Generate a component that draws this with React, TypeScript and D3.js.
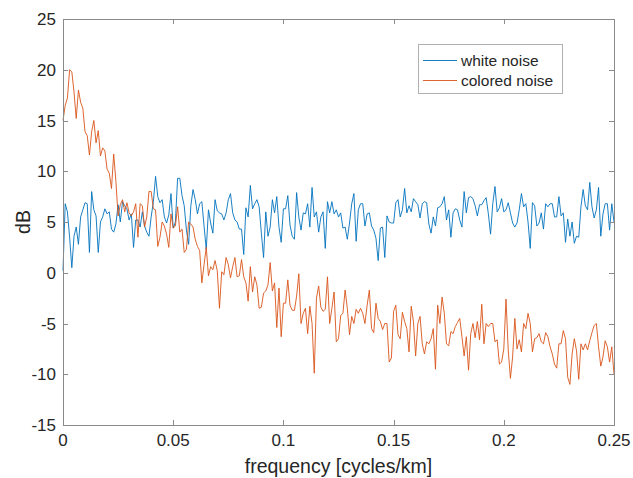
import * as d3 from "d3"

// spectra, one value every 0.001 cycles/km
const freqStep = 0.001

const whiteNoise = [
  0.2, 6.8, 6.0, 3.5, 0.5, 3.6, 4.5, 2.8, 5.5, 6.2, 6.9, 6.8, 2.0, 8.0, 6.2, 5.6, 2.0, 5.0, 5.5, 6.3,
  5.8, 6.0, 4.3, 4.0, 4.8, 6.7, 5.0, 7.0, 6.6, 6.3, 5.2, 5.8, 2.5, 5.2, 5.2, 4.5, 6.0, 4.6, 4.0, 3.6,
  5.5, 7.0, 9.5, 7.5, 6.9, 7.2, 5.5, 4.9, 5.7, 7.8, 4.4, 5.0, 9.3, 9.3, 7.6, 6.6, 4.2, 2.8, 6.6, 8.2,
  7.2, 5.8, 6.8, 7.0, 4.6, 2.3, 6.2, 4.9, 3.9, 7.2, 6.1, 5.9, 5.8, 5.2, 5.9, 7.2, 7.8, 5.9, 5.2, 5.0,
  4.3, 4.3, 1.8, 6.4, 5.5, 8.6, 6.3, 6.8, 7.2, 6.5, 3.9, 1.5, 6.0, 3.6, 4.5, 7.2, 5.9, 7.5, 4.5, 3.0,
  6.3, 6.3, 7.6, 4.7, 3.6, 3.3, 7.9, 5.5, 4.2, 5.9, 5.8, 6.8, 4.5, 8.4, 5.5, 6.0, 4.0, 5.5, 6.0, 2.4,
  7.0, 5.9, 7.0, 5.8, 6.2, 5.5, 5.9, 4.4, 4.5, 3.3, 4.9, 6.8, 7.8, 3.1, 6.2, 6.8, 6.8, 4.6, 5.8, 5.9,
  4.6, 4.2, 3.4, 1.2, 4.4, 4.5, 1.5, 5.6, 5.0, 4.9, 4.9, 6.9, 7.2, 5.5, 6.2, 8.3, 5.9, 6.6, 6.0, 7.3,
  7.0, 6.7, 5.4, 6.8, 7.0, 6.9, 4.8, 3.9, 5.5, 4.6, 6.4, 6.5, 6.8, 7.5, 5.2, 6.2, 3.5, 5.9, 6.3, 6.2,
  5.2, 4.5, 8.0, 5.9, 7.4, 7.5, 7.3, 6.6, 5.6, 6.7, 6.7, 7.1, 7.4, 5.8, 3.8, 6.8, 8.5, 6.0, 6.4, 7.3,
  6.0, 6.2, 6.9, 5.9, 4.9, 4.5, 4.9, 6.2, 7.8, 6.5, 6.8, 5.0, 2.4, 6.9, 6.6, 4.6, 4.9, 5.9, 4.3, 6.8,
  6.5, 6.8, 6.8, 5.5, 5.5, 7.5, 5.6, 5.9, 3.0, 5.3, 3.6, 5.0, 2.9, 3.6, 3.5, 6.5, 8.2, 6.6, 6.2, 8.9,
  6.5, 5.4, 6.2, 8.4, 3.6, 5.8, 6.8, 6.8, 4.2, 6.8, 5.0,
]

const coloredNoise = [
  15.0, 16.5, 17.2, 20.0, 19.8, 17.8, 15.2, 18.0, 16.8, 16.2, 13.9, 13.5, 11.6, 13.9, 15.0, 12.8, 14.0, 11.5, 12.3, 12.0,
  10.2, 9.8, 8.3, 11.7, 9.0, 5.6, 6.7, 7.2, 6.0, 6.9, 5.9, 5.6, 6.0, 6.8, 3.5, 6.8, 6.6, 4.5, 5.5, 8.0,
  8.0, 6.3, 6.2, 2.6, 3.5, 5.0, 4.6, 3.8, 2.5, 5.8, 4.4, 4.6, 6.5, 4.0, 4.3, 2.0, 2.3, 5.0, 4.8, 4.5,
  3.3, 2.6, 2.2, -1.0, 0.8, 2.5, -0.3, 0.6, 0.3, 1.2, 0.2, -3.5, 0.1, -0.2, 1.5, 0.8, -0.5, 0.6, 1.5, -0.4,
  -0.3, 1.3, -0.4, -1.0, -2.8, 0.6, -1.9, -0.4, -1.2, -3.5, -3.4, -2.0, -1.8, -1.2, 1.0, -1.8, -1.0, -5.4, -1.5, -6.3,
  -3.0, -3.0, -0.7, -3.2, -3.7, -3.7, -2.3, -0.1, -5.0, -4.0, -3.5, -6.0, -3.3, -5.0, -9.9, -2.5, -1.3, -3.4, -3.8, -3.6,
  -0.4, -5.0, -3.5, -1.9, -6.8, -6.5, -4.2, -4.0, -1.7, -3.5, -6.1, -4.3, -5.0, -3.6, -4.0, -3.5, -4.0, -5.0, -3.2, -1.7,
  -5.5, -5.9, -3.0, -4.5, -4.8, -5.6, -5.0, -5.0, -8.8, -8.4, -3.8, -3.2, -6.1, -6.5, -3.9, -4.8, -5.5, -7.8, -3.3, -4.8,
  -8.2, -5.0, -4.3, -7.0, -8.0, -6.8, -7.0, -6.5, -5.5, -9.5, -3.2, -5.0, -2.4, -4.0, -7.0, -7.2, -5.8, -6.0, -5.3, -4.9,
  -4.5, -6.3, -8.2, -6.3, -9.6, -6.0, -5.0, -6.4, -4.8, -6.6, -3.1, -7.0, -5.0, -5.3, -5.0, -5.0, -6.8, -6.6, -9.0, -8.8,
  -7.5, -2.6, -7.6, -10.4, -8.3, -4.5, -7.5, -6.6, -7.8, -5.0, -5.5, -4.0, -5.0, -7.8, -6.5, -6.4, -6.0, -6.8, -7.0, -5.9,
  -6.3, -7.3, -8.0, -9.0, -9.4, -7.0, -7.0, -5.7, -6.5, -10.3, -11.0, -8.0, -6.5, -7.7, -10.5, -7.0, -7.6, -7.0, -7.6, -6.7,
  -5.9, -5.2, -5.0, -7.3, -9.2, -8.3, -6.7, -7.3, -8.8, -7.3, -10.0,
]

const seriesNames = ["white noise", "colored noise"]
const seriesColors = ["#0072BD", "#D95319"]
const xTicks = [0, 0.05, 0.1, 0.15, 0.2, 0.25]
const xTickLabels = ["0", "0.05", "0.1", "0.15", "0.2", "0.25"]
const yTicks = [-15, -10, -5, 0, 5, 10, 15, 20, 25]

const font = "'Liberation Sans', Arial, Helvetica, sans-serif"
const textColor = "#262626"
const axisColor = "#8a8a8a"

export default function App() {
  const width = 633
  const height = 478
  const margin = {top: 19, right: 19, bottom: 53, left: 63}
  const left = margin.left
  const right = width - margin.right
  const top = margin.top
  const bottom = height - margin.bottom

  const x = d3.scaleLinear().domain([0, 0.25]).range([left, right])
  const y = d3.scaleLinear().domain([-15, 25]).range([bottom, top])

  const line = d3
    .line<number>()
    .x((_, i) => x(i * freqStep))
    .y((d) => y(d))

  const series = [whiteNoise, coloredNoise]
  const tickLen = 5
  const snap = (v: number) => Math.round(v) + 0.5

  // legend box
  const lg = {x: 418, y: 44, w: 144, h: 49}

  return (
    <div style={{position: "absolute", left: 0, top: 0}}>
      <svg width={width} height={height} style={{display: "block", background: "#fff"}}>
        <rect x={0} y={0} width={width} height={height} fill="#fff" />

        {/* data */}
        <g fill="none" strokeWidth={0.9} strokeLinejoin="round">
          {series.map((s, i) => (
            <path key={seriesNames[i]} d={line(s) ?? ""} stroke={seriesColors[i]} />
          ))}
        </g>

        {/* box */}
        <rect
          x={snap(left)}
          y={snap(top)}
          width={Math.round(right) - Math.round(left)}
          height={Math.round(bottom) - Math.round(top)}
          fill="none"
          stroke={axisColor}
          strokeWidth={1}
        />

        {/* ticks, inside on all four sides */}
        <g stroke={axisColor} strokeWidth={1}>
          {xTicks.map((t) => (
            <g key={"xt" + t}>
              <line x1={snap(x(t))} x2={snap(x(t))} y1={bottom} y2={bottom - tickLen} />
              <line x1={snap(x(t))} x2={snap(x(t))} y1={top} y2={top + tickLen} />
            </g>
          ))}
          {yTicks.map((t) => (
            <g key={"yt" + t}>
              <line x1={left} x2={left + tickLen} y1={snap(y(t))} y2={snap(y(t))} />
              <line x1={right} x2={right - tickLen} y1={snap(y(t))} y2={snap(y(t))} />
            </g>
          ))}
        </g>

        <g fontFamily={font} fontSize={17} fill={textColor}>
          {xTicks.map((t, i) => (
            <text key={"xl" + t} x={x(t)} y={bottom + 21} textAnchor="middle">
              {xTickLabels[i]}
            </text>
          ))}
          {yTicks.map((t) => (
            <text key={"yl" + t} x={left - 7} y={y(t) + 6} textAnchor="end">
              {t}
            </text>
          ))}
          <text x={(left + right) / 2} y={473} textAnchor="middle" fontSize={19.5}>
            frequency [cycles/km]
          </text>
          <text
            transform={`translate(${30},${(top + bottom) / 2}) rotate(-90)`}
            textAnchor="middle"
            fontSize={19.5}
          >
            dB
          </text>
        </g>

        {/* legend */}
        <g>
          <rect x={lg.x + 0.5} y={lg.y + 0.5} width={lg.w} height={lg.h} fill="#fff" stroke="#b0b0b0" strokeWidth={1} />
          {seriesNames.map((name, i) => (
            <g key={name}>
              <line
                x1={lg.x + 5}
                x2={lg.x + 39}
                y1={lg.y + 16.5 + i * 20}
                y2={lg.y + 16.5 + i * 20}
                stroke={seriesColors[i]}
                strokeWidth={0.9}
              />
              <text
                x={lg.x + 43}
                y={lg.y + 22 + i * 20}
                fontFamily={font}
                fontSize={15.5}
                fill={textColor}
              >
                {name}
              </text>
            </g>
          ))}
        </g>
      </svg>
    </div>
  )
}
